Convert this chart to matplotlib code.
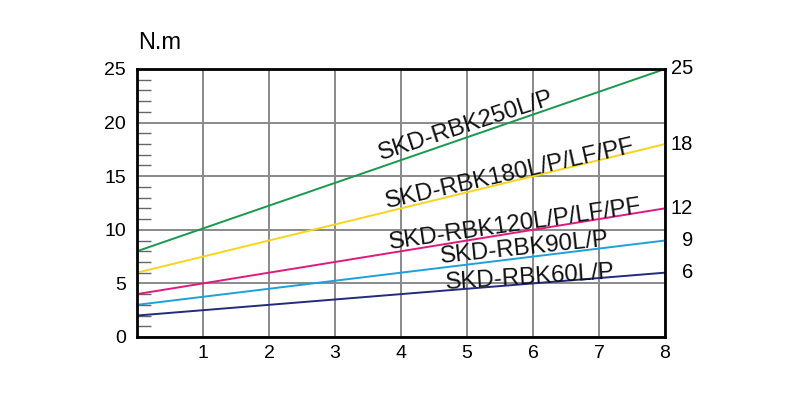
import matplotlib
matplotlib.use("Agg")
import matplotlib.pyplot as plt
import numpy as np

plt.rcParams['font.family'] = ['Liberation Sans', 'DejaVu Sans']

x_range = [0, 8]
models = ["SKD-RBK250L/P", "SKD-RBK180L/P/LF/PF", "SKD-RBK120L/P/LF/PF", "SKD-RBK90L/P", "SKD-RBK60L/P"]
start_vals = [8, 6, 4, 3, 2]
end_vals = [25, 18, 12, 9, 6]
end_labels = ["25", "18", "12", "9", "6"]
colors = ["#179a4e", "#f7d51d", "#e0197d", "#1ea0dc", "#232b7c"]
label_x = [5.04, 5.69, 5.76, 5.89, 5.96]
label_off = [0, -2.5, -2.5, -1.5, -3.5]
y_ticks = [0, 5, 10, 15, 20, 25]
x_ticks = [1, 2, 3, 4, 5, 6, 7, 8]

fig = plt.figure(figsize=(8, 3.99), dpi=100)
ax = fig.add_axes([0.17125, 0.1554, 0.66, 0.6717])
ax.set_xlim(0, 8)
ax.set_ylim(0, 25)

for s, e, c in zip(start_vals, end_vals, colors):
    ax.plot(x_range, [s, e], color=c, lw=1.4, zorder=3)

ax.set_xticks(x_ticks)
ax.set_yticks(y_ticks)
ax.set_yticks([v for v in range(1, 25) if v % 5], minor=True)
ax.grid(True, which='major', color='#8a8a8a', lw=1.4, zorder=1)
ax.tick_params(axis='both', which='major', length=0, labelsize=14, pad=8)
ax.tick_params(axis='y', which='minor', direction='in', length=10, width=1.0, color='#666666')
ax.tick_params(axis='x', pad=6)
for sp in ax.spines.values():
    sp.set_linewidth(2)
    sp.set_color('black')
    sp.set_zorder(4)

for m, s, e, lx, off in zip(models, start_vals, end_vals, label_x, label_off):
    ly = s + (e - s) * lx / 8
    p1 = ax.transData.transform((0, s))
    p2 = ax.transData.transform((8, e))
    ang = np.degrees(np.arctan2(p2[1] - p1[1], p2[0] - p1[0])) - 1.0
    ax.annotate(m, (lx, ly), xytext=(0, off), textcoords='offset points',
                rotation=ang, rotation_mode='anchor', ha='center', va='bottom',
                fontsize=17.3, color='#111111', zorder=5)

for e, t in zip(end_vals, end_labels):
    ax.annotate(t, (8, e), xytext=(20, 0), textcoords='offset points',
                ha='right', va='center', fontsize=14.5, annotation_clip=False)

fig.text(0.199, 0.893, "N.m", fontsize=17, ha='center', va='center')

fig.savefig("out.png", dpi=100)
